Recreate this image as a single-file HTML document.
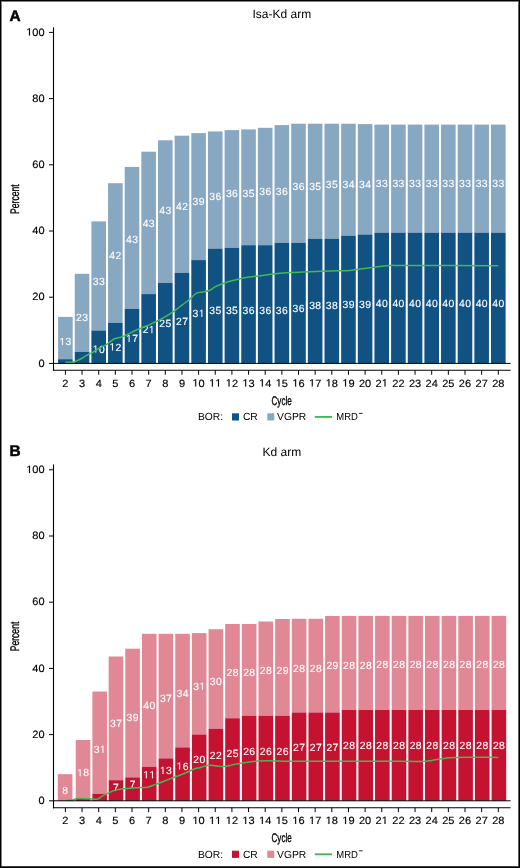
<!DOCTYPE html>
<html><head><meta charset="utf-8"><style>
html,body{margin:0;padding:0;background:#fff;}
svg{display:block;will-change:transform;}
text{font-family:"Liberation Sans", sans-serif;text-rendering:geometricPrecision;}
.bl{font-size:10.4px;fill:#fff;stroke:#fff;stroke-width:0.12px;}
.tk{font-size:10px;fill:#000;}
.tky{font-size:10.6px;fill:#000;stroke:#000;stroke-width:0.15px;}
.tkx{font-size:10.5px;fill:#000;stroke:#000;stroke-width:0.15px;}
.ti{font-size:12px;fill:#000;}
.pl{font-size:15.4px;font-weight:bold;fill:#000;stroke:#000;stroke-width:0.5px;}
.ax{font-size:12.5px;fill:#000;stroke:#000;stroke-width:0.35px;}
.lg{font-size:10.3px;fill:#000;}
</style></head><body>
<svg width="520" height="868" viewBox="0 0 520 868">
<defs><path id="one" d="M515,0V1237L197,1010V1180L530,1409H696V0Z"/></defs>
<rect x="0" y="0" width="520" height="868" fill="#fff"/>
<rect x="58.1" y="316.9" width="14.6" height="42.3" fill="#88a8c2"/>
<rect x="58.1" y="359.2" width="14.6" height="4.2" fill="#105282"/>
<rect x="74.75" y="273.8" width="14.6" height="78" fill="#88a8c2"/>
<rect x="74.75" y="351.8" width="14.6" height="11.6" fill="#105282"/>
<rect x="91.4" y="221.4" width="14.6" height="109.1" fill="#88a8c2"/>
<rect x="91.4" y="330.5" width="14.6" height="32.9" fill="#105282"/>
<rect x="108.05" y="183.2" width="14.6" height="139.6" fill="#88a8c2"/>
<rect x="108.05" y="322.8" width="14.6" height="40.6" fill="#105282"/>
<rect x="124.7" y="166.9" width="14.6" height="141.9" fill="#88a8c2"/>
<rect x="124.7" y="308.8" width="14.6" height="54.6" fill="#105282"/>
<rect x="141.35" y="151.7" width="14.6" height="142.4" fill="#88a8c2"/>
<rect x="141.35" y="294.1" width="14.6" height="69.3" fill="#105282"/>
<rect x="158" y="140.3" width="14.6" height="142.7" fill="#88a8c2"/>
<rect x="158" y="283" width="14.6" height="80.4" fill="#105282"/>
<rect x="174.65" y="135.7" width="14.6" height="137.1" fill="#88a8c2"/>
<rect x="174.65" y="272.8" width="14.6" height="90.6" fill="#105282"/>
<rect x="191.3" y="133.1" width="14.6" height="127" fill="#88a8c2"/>
<rect x="191.3" y="260.1" width="14.6" height="103.3" fill="#105282"/>
<rect x="207.95" y="131.4" width="14.6" height="117.2" fill="#88a8c2"/>
<rect x="207.95" y="248.6" width="14.6" height="114.8" fill="#105282"/>
<rect x="224.6" y="130.1" width="14.6" height="117.7" fill="#88a8c2"/>
<rect x="224.6" y="247.8" width="14.6" height="115.6" fill="#105282"/>
<rect x="241.25" y="129.4" width="14.6" height="115.8" fill="#88a8c2"/>
<rect x="241.25" y="245.2" width="14.6" height="118.2" fill="#105282"/>
<rect x="257.9" y="127.8" width="14.6" height="117.4" fill="#88a8c2"/>
<rect x="257.9" y="245.2" width="14.6" height="118.2" fill="#105282"/>
<rect x="274.55" y="125.1" width="14.6" height="117.7" fill="#88a8c2"/>
<rect x="274.55" y="242.8" width="14.6" height="120.6" fill="#105282"/>
<rect x="291.2" y="123.7" width="14.6" height="119.1" fill="#88a8c2"/>
<rect x="291.2" y="242.8" width="14.6" height="120.6" fill="#105282"/>
<rect x="307.85" y="123.7" width="14.6" height="115" fill="#88a8c2"/>
<rect x="307.85" y="238.7" width="14.6" height="124.7" fill="#105282"/>
<rect x="324.5" y="123.7" width="14.6" height="115" fill="#88a8c2"/>
<rect x="324.5" y="238.7" width="14.6" height="124.7" fill="#105282"/>
<rect x="341.15" y="123.7" width="14.6" height="112" fill="#88a8c2"/>
<rect x="341.15" y="235.7" width="14.6" height="127.7" fill="#105282"/>
<rect x="357.8" y="124.1" width="14.6" height="110.4" fill="#88a8c2"/>
<rect x="357.8" y="234.5" width="14.6" height="128.9" fill="#105282"/>
<rect x="374.45" y="124.6" width="14.6" height="108.1" fill="#88a8c2"/>
<rect x="374.45" y="232.7" width="14.6" height="130.7" fill="#105282"/>
<rect x="391.1" y="124.6" width="14.6" height="108.1" fill="#88a8c2"/>
<rect x="391.1" y="232.7" width="14.6" height="130.7" fill="#105282"/>
<rect x="407.75" y="124.6" width="14.6" height="108.1" fill="#88a8c2"/>
<rect x="407.75" y="232.7" width="14.6" height="130.7" fill="#105282"/>
<rect x="424.4" y="124.6" width="14.6" height="108.1" fill="#88a8c2"/>
<rect x="424.4" y="232.7" width="14.6" height="130.7" fill="#105282"/>
<rect x="441.05" y="124.6" width="14.6" height="108.1" fill="#88a8c2"/>
<rect x="441.05" y="232.7" width="14.6" height="130.7" fill="#105282"/>
<rect x="457.7" y="124.6" width="14.6" height="108.1" fill="#88a8c2"/>
<rect x="457.7" y="232.7" width="14.6" height="130.7" fill="#105282"/>
<rect x="474.35" y="124.6" width="14.6" height="108.1" fill="#88a8c2"/>
<rect x="474.35" y="232.7" width="14.6" height="130.7" fill="#105282"/>
<rect x="491" y="124.6" width="14.6" height="108.1" fill="#88a8c2"/>
<rect x="491" y="232.7" width="14.6" height="130.7" fill="#105282"/>
<use href="#one" fill="#fff" stroke="#fff" stroke-width="23.63" transform="translate(59.42,345.1) scale(0.005078,-0.005078)"/><text x="65.6" y="345.1" class="bl">3</text>
<text x="76.07" y="321" class="bl">2</text><text x="82.25" y="321" class="bl">3</text>
<text x="92.72" y="285" class="bl">3</text><text x="98.9" y="285" class="bl">3</text>
<text x="109.37" y="259.1" class="bl">4</text><text x="115.55" y="259.1" class="bl">2</text>
<text x="126.02" y="242.8" class="bl">4</text><text x="132.2" y="242.8" class="bl">3</text>
<text x="142.67" y="226.9" class="bl">4</text><text x="148.85" y="226.9" class="bl">3</text>
<text x="159.32" y="214" class="bl">4</text><text x="165.5" y="214" class="bl">3</text>
<text x="175.97" y="209.9" class="bl">4</text><text x="182.15" y="209.9" class="bl">2</text>
<text x="192.62" y="204.8" class="bl">3</text><text x="198.8" y="204.8" class="bl">9</text>
<text x="209.27" y="199.9" class="bl">3</text><text x="215.45" y="199.9" class="bl">6</text>
<text x="225.92" y="197.1" class="bl">3</text><text x="232.1" y="197.1" class="bl">6</text>
<text x="242.57" y="197.2" class="bl">3</text><text x="248.75" y="197.2" class="bl">5</text>
<text x="259.22" y="195.1" class="bl">3</text><text x="265.4" y="195.1" class="bl">6</text>
<text x="275.87" y="194.9" class="bl">3</text><text x="282.05" y="194.9" class="bl">6</text>
<text x="292.52" y="190.4" class="bl">3</text><text x="298.7" y="190.4" class="bl">6</text>
<text x="309.17" y="190.4" class="bl">3</text><text x="315.35" y="190.4" class="bl">5</text>
<text x="325.82" y="187.9" class="bl">3</text><text x="332" y="187.9" class="bl">5</text>
<text x="342.47" y="187.8" class="bl">3</text><text x="348.65" y="187.8" class="bl">4</text>
<text x="359.12" y="188.2" class="bl">3</text><text x="365.3" y="188.2" class="bl">4</text>
<text x="375.77" y="186.5" class="bl">3</text><text x="381.95" y="186.5" class="bl">3</text>
<text x="392.42" y="186.5" class="bl">3</text><text x="398.6" y="186.5" class="bl">3</text>
<text x="409.07" y="186.5" class="bl">3</text><text x="415.25" y="186.5" class="bl">3</text>
<text x="425.72" y="186.5" class="bl">3</text><text x="431.9" y="186.5" class="bl">3</text>
<text x="442.37" y="186.5" class="bl">3</text><text x="448.55" y="186.5" class="bl">3</text>
<text x="459.02" y="186.5" class="bl">3</text><text x="465.2" y="186.5" class="bl">3</text>
<text x="475.67" y="186.5" class="bl">3</text><text x="481.85" y="186.5" class="bl">3</text>
<text x="492.32" y="186.5" class="bl">3</text><text x="498.5" y="186.5" class="bl">3</text>
<use href="#one" fill="#fff" stroke="#fff" stroke-width="23.63" transform="translate(92.72,352.6) scale(0.005078,-0.005078)"/><text x="98.9" y="352.6" class="bl">0</text>
<use href="#one" fill="#fff" stroke="#fff" stroke-width="23.63" transform="translate(109.37,350.5) scale(0.005078,-0.005078)"/><text x="115.55" y="350.5" class="bl">2</text>
<use href="#one" fill="#fff" stroke="#fff" stroke-width="23.63" transform="translate(126.02,342.1) scale(0.005078,-0.005078)"/><text x="132.2" y="342.1" class="bl">7</text>
<text x="142.67" y="333.2" class="bl">2</text><use href="#one" fill="#fff" stroke="#fff" stroke-width="23.63" transform="translate(148.85,333.2) scale(0.005078,-0.005078)"/>
<text x="159.32" y="326.7" class="bl">2</text><text x="165.5" y="326.7" class="bl">5</text>
<text x="175.97" y="325.3" class="bl">2</text><text x="182.15" y="325.3" class="bl">7</text>
<text x="192.62" y="316.9" class="bl">3</text><use href="#one" fill="#fff" stroke="#fff" stroke-width="23.63" transform="translate(198.8,316.9) scale(0.005078,-0.005078)"/>
<text x="209.27" y="314.1" class="bl">3</text><text x="215.45" y="314.1" class="bl">5</text>
<text x="225.92" y="314.1" class="bl">3</text><text x="232.1" y="314.1" class="bl">5</text>
<text x="242.57" y="313.6" class="bl">3</text><text x="248.75" y="313.6" class="bl">6</text>
<text x="259.22" y="313.6" class="bl">3</text><text x="265.4" y="313.6" class="bl">6</text>
<text x="275.87" y="313.6" class="bl">3</text><text x="282.05" y="313.6" class="bl">6</text>
<text x="292.52" y="312.4" class="bl">3</text><text x="298.7" y="312.4" class="bl">6</text>
<text x="309.17" y="308.6" class="bl">3</text><text x="315.35" y="308.6" class="bl">8</text>
<text x="325.82" y="308.6" class="bl">3</text><text x="332" y="308.6" class="bl">8</text>
<text x="342.47" y="307.6" class="bl">3</text><text x="348.65" y="307.6" class="bl">9</text>
<text x="359.12" y="307.6" class="bl">3</text><text x="365.3" y="307.6" class="bl">9</text>
<text x="375.77" y="306.5" class="bl">4</text><text x="381.95" y="306.5" class="bl">0</text>
<text x="392.42" y="306.5" class="bl">4</text><text x="398.6" y="306.5" class="bl">0</text>
<text x="409.07" y="306.5" class="bl">4</text><text x="415.25" y="306.5" class="bl">0</text>
<text x="425.72" y="306.5" class="bl">4</text><text x="431.9" y="306.5" class="bl">0</text>
<text x="442.37" y="306.5" class="bl">4</text><text x="448.55" y="306.5" class="bl">0</text>
<text x="459.02" y="306.5" class="bl">4</text><text x="465.2" y="306.5" class="bl">0</text>
<text x="475.67" y="306.5" class="bl">4</text><text x="481.85" y="306.5" class="bl">0</text>
<text x="492.32" y="306.5" class="bl">4</text><text x="498.5" y="306.5" class="bl">0</text>
<path d="M65.4,362.3 C66.67,362.28 71.23,362.4 73,362.2 C74.77,362 74.58,361.72 76,361.1 C77.42,360.48 79.83,359.4 81.5,358.5 C83.17,357.6 84.42,356.58 86,355.7 C87.58,354.82 89.33,354.12 91,353.2 C92.67,352.28 94.4,351.15 96,350.2 C97.6,349.25 98.93,348.4 100.6,347.5 C102.27,346.6 104.33,345.82 106,344.8 C107.67,343.78 109.07,342.45 110.6,341.4 C112.13,340.35 113.53,339.2 115.2,338.5 C116.87,337.8 118.93,337.68 120.6,337.2 C122.27,336.72 123.53,336.32 125.2,335.6 C126.87,334.88 128.8,333.8 130.6,332.9 C132.4,332 133.43,331.32 136,330.2 C138.57,329.08 142.9,327.53 146,326.2 C149.1,324.87 151.72,323.58 154.6,322.2 C157.48,320.82 160.42,319.48 163.3,317.9 C166.18,316.32 169.88,314 171.9,312.7 C173.92,311.4 173.67,311.4 175.4,310.1 C177.13,308.8 180,306.63 182.3,304.9 C184.6,303.17 186.9,301.63 189.2,299.7 C191.5,297.77 193.8,294.6 196.1,293.3 C198.4,292 200.68,292.42 203,291.9 C205.32,291.38 208,291.03 210,290.2 C212,289.37 212.7,288.05 215,286.9 C217.3,285.75 220.98,284.32 223.8,283.3 C226.62,282.28 228.98,281.62 231.9,280.8 C234.82,279.98 238.38,279.02 241.3,278.4 C244.22,277.78 246.48,277.52 249.4,277.1 C252.32,276.68 255.88,276.28 258.8,275.9 C261.72,275.52 264.2,275.17 266.9,274.8 C269.6,274.43 271.15,274.08 275,273.7 C278.85,273.32 284.17,272.82 290,272.5 C295.83,272.18 303.33,272 310,271.75 C316.67,271.5 323.33,271.21 330,271 C336.67,270.79 345,270.83 350,270.5 C355,270.17 356.67,269.46 360,269 C363.33,268.54 366.67,268.17 370,267.75 C373.33,267.33 376.67,266.88 380,266.5 C383.33,266.12 386.67,265.68 390,265.5 C393.33,265.32 390,265.37 400,265.4 C418.05,265.43 481.92,265.65 498.3,265.7" fill="none" stroke="#44b853" stroke-width="1.5" stroke-linejoin="round" stroke-linecap="butt"/>
<line x1="53" y1="363.4" x2="510.6" y2="363.4" stroke="#000" stroke-width="1"/>
<line x1="53" y1="370.3" x2="510.6" y2="370.3" stroke="#000" stroke-width="1.1"/>
<line x1="53.5" y1="27.2" x2="53.5" y2="370.85" stroke="#000" stroke-width="1.1"/>
<line x1="49" y1="363.4" x2="53.5" y2="363.4" stroke="#000" stroke-width="1"/>
<text transform="translate(38.47,366.6) scale(1.04,1)" class="tky">0</text>
<line x1="49" y1="297.2" x2="53.5" y2="297.2" stroke="#000" stroke-width="1"/>
<text transform="translate(32.34,300.4) scale(1.04,1)" class="tky">2</text><text transform="translate(38.47,300.4) scale(1.04,1)" class="tky">0</text>
<line x1="49" y1="231" x2="53.5" y2="231" stroke="#000" stroke-width="1"/>
<text transform="translate(32.34,234.2) scale(1.04,1)" class="tky">4</text><text transform="translate(38.47,234.2) scale(1.04,1)" class="tky">0</text>
<line x1="49" y1="164.8" x2="53.5" y2="164.8" stroke="#000" stroke-width="1"/>
<text transform="translate(32.34,168) scale(1.04,1)" class="tky">6</text><text transform="translate(38.47,168) scale(1.04,1)" class="tky">0</text>
<line x1="49" y1="98.6" x2="53.5" y2="98.6" stroke="#000" stroke-width="1"/>
<text transform="translate(32.34,101.8) scale(1.04,1)" class="tky">8</text><text transform="translate(38.47,101.8) scale(1.04,1)" class="tky">0</text>
<line x1="49" y1="32.4" x2="53.5" y2="32.4" stroke="#000" stroke-width="1"/>
<use href="#one" fill="#000" stroke="#000" stroke-width="28.98" transform="translate(26.21,35.6) scale(0.005383,-0.005176)"/><text transform="translate(32.34,35.6) scale(1.04,1)" class="tky">0</text><text transform="translate(38.47,35.6) scale(1.04,1)" class="tky">0</text>
<line x1="65.4" y1="370.3" x2="65.4" y2="374.7" stroke="#000" stroke-width="1"/>
<text transform="translate(62.33,386.5) scale(1.05,1)" class="tkx">2</text>
<line x1="82.05" y1="370.3" x2="82.05" y2="374.7" stroke="#000" stroke-width="1"/>
<text transform="translate(78.98,386.5) scale(1.05,1)" class="tkx">3</text>
<line x1="98.7" y1="370.3" x2="98.7" y2="374.7" stroke="#000" stroke-width="1"/>
<text transform="translate(95.63,386.5) scale(1.05,1)" class="tkx">4</text>
<line x1="115.35" y1="370.3" x2="115.35" y2="374.7" stroke="#000" stroke-width="1"/>
<text transform="translate(112.28,386.5) scale(1.05,1)" class="tkx">5</text>
<line x1="132" y1="370.3" x2="132" y2="374.7" stroke="#000" stroke-width="1"/>
<text transform="translate(128.93,386.5) scale(1.05,1)" class="tkx">6</text>
<line x1="148.65" y1="370.3" x2="148.65" y2="374.7" stroke="#000" stroke-width="1"/>
<text transform="translate(145.58,386.5) scale(1.05,1)" class="tkx">7</text>
<line x1="165.3" y1="370.3" x2="165.3" y2="374.7" stroke="#000" stroke-width="1"/>
<text transform="translate(162.23,386.5) scale(1.05,1)" class="tkx">8</text>
<line x1="181.95" y1="370.3" x2="181.95" y2="374.7" stroke="#000" stroke-width="1"/>
<text transform="translate(178.88,386.5) scale(1.05,1)" class="tkx">9</text>
<line x1="198.6" y1="370.3" x2="198.6" y2="374.7" stroke="#000" stroke-width="1"/>
<use href="#one" fill="#000" stroke="#000" stroke-width="29.26" transform="translate(192.47,386.5) scale(0.005383,-0.005127)"/><text transform="translate(198.6,386.5) scale(1.05,1)" class="tkx">0</text>
<line x1="215.25" y1="370.3" x2="215.25" y2="374.7" stroke="#000" stroke-width="1"/>
<use href="#one" fill="#000" stroke="#000" stroke-width="29.26" transform="translate(209.12,386.5) scale(0.005383,-0.005127)"/><use href="#one" fill="#000" stroke="#000" stroke-width="29.26" transform="translate(215.25,386.5) scale(0.005383,-0.005127)"/>
<line x1="231.9" y1="370.3" x2="231.9" y2="374.7" stroke="#000" stroke-width="1"/>
<use href="#one" fill="#000" stroke="#000" stroke-width="29.26" transform="translate(225.77,386.5) scale(0.005383,-0.005127)"/><text transform="translate(231.9,386.5) scale(1.05,1)" class="tkx">2</text>
<line x1="248.55" y1="370.3" x2="248.55" y2="374.7" stroke="#000" stroke-width="1"/>
<use href="#one" fill="#000" stroke="#000" stroke-width="29.26" transform="translate(242.42,386.5) scale(0.005383,-0.005127)"/><text transform="translate(248.55,386.5) scale(1.05,1)" class="tkx">3</text>
<line x1="265.2" y1="370.3" x2="265.2" y2="374.7" stroke="#000" stroke-width="1"/>
<use href="#one" fill="#000" stroke="#000" stroke-width="29.26" transform="translate(259.07,386.5) scale(0.005383,-0.005127)"/><text transform="translate(265.2,386.5) scale(1.05,1)" class="tkx">4</text>
<line x1="281.85" y1="370.3" x2="281.85" y2="374.7" stroke="#000" stroke-width="1"/>
<use href="#one" fill="#000" stroke="#000" stroke-width="29.26" transform="translate(275.72,386.5) scale(0.005383,-0.005127)"/><text transform="translate(281.85,386.5) scale(1.05,1)" class="tkx">5</text>
<line x1="298.5" y1="370.3" x2="298.5" y2="374.7" stroke="#000" stroke-width="1"/>
<use href="#one" fill="#000" stroke="#000" stroke-width="29.26" transform="translate(292.37,386.5) scale(0.005383,-0.005127)"/><text transform="translate(298.5,386.5) scale(1.05,1)" class="tkx">6</text>
<line x1="315.15" y1="370.3" x2="315.15" y2="374.7" stroke="#000" stroke-width="1"/>
<use href="#one" fill="#000" stroke="#000" stroke-width="29.26" transform="translate(309.02,386.5) scale(0.005383,-0.005127)"/><text transform="translate(315.15,386.5) scale(1.05,1)" class="tkx">7</text>
<line x1="331.8" y1="370.3" x2="331.8" y2="374.7" stroke="#000" stroke-width="1"/>
<use href="#one" fill="#000" stroke="#000" stroke-width="29.26" transform="translate(325.67,386.5) scale(0.005383,-0.005127)"/><text transform="translate(331.8,386.5) scale(1.05,1)" class="tkx">8</text>
<line x1="348.45" y1="370.3" x2="348.45" y2="374.7" stroke="#000" stroke-width="1"/>
<use href="#one" fill="#000" stroke="#000" stroke-width="29.26" transform="translate(342.32,386.5) scale(0.005383,-0.005127)"/><text transform="translate(348.45,386.5) scale(1.05,1)" class="tkx">9</text>
<line x1="365.1" y1="370.3" x2="365.1" y2="374.7" stroke="#000" stroke-width="1"/>
<text transform="translate(358.97,386.5) scale(1.05,1)" class="tkx">2</text><text transform="translate(365.1,386.5) scale(1.05,1)" class="tkx">0</text>
<line x1="381.75" y1="370.3" x2="381.75" y2="374.7" stroke="#000" stroke-width="1"/>
<text transform="translate(375.62,386.5) scale(1.05,1)" class="tkx">2</text><use href="#one" fill="#000" stroke="#000" stroke-width="29.26" transform="translate(381.75,386.5) scale(0.005383,-0.005127)"/>
<line x1="398.4" y1="370.3" x2="398.4" y2="374.7" stroke="#000" stroke-width="1"/>
<text transform="translate(392.27,386.5) scale(1.05,1)" class="tkx">2</text><text transform="translate(398.4,386.5) scale(1.05,1)" class="tkx">2</text>
<line x1="415.05" y1="370.3" x2="415.05" y2="374.7" stroke="#000" stroke-width="1"/>
<text transform="translate(408.92,386.5) scale(1.05,1)" class="tkx">2</text><text transform="translate(415.05,386.5) scale(1.05,1)" class="tkx">3</text>
<line x1="431.7" y1="370.3" x2="431.7" y2="374.7" stroke="#000" stroke-width="1"/>
<text transform="translate(425.57,386.5) scale(1.05,1)" class="tkx">2</text><text transform="translate(431.7,386.5) scale(1.05,1)" class="tkx">4</text>
<line x1="448.35" y1="370.3" x2="448.35" y2="374.7" stroke="#000" stroke-width="1"/>
<text transform="translate(442.22,386.5) scale(1.05,1)" class="tkx">2</text><text transform="translate(448.35,386.5) scale(1.05,1)" class="tkx">5</text>
<line x1="465" y1="370.3" x2="465" y2="374.7" stroke="#000" stroke-width="1"/>
<text transform="translate(458.87,386.5) scale(1.05,1)" class="tkx">2</text><text transform="translate(465,386.5) scale(1.05,1)" class="tkx">6</text>
<line x1="481.65" y1="370.3" x2="481.65" y2="374.7" stroke="#000" stroke-width="1"/>
<text transform="translate(475.52,386.5) scale(1.05,1)" class="tkx">2</text><text transform="translate(481.65,386.5) scale(1.05,1)" class="tkx">7</text>
<line x1="498.3" y1="370.3" x2="498.3" y2="374.7" stroke="#000" stroke-width="1"/>
<text transform="translate(492.17,386.5) scale(1.05,1)" class="tkx">2</text><text transform="translate(498.3,386.5) scale(1.05,1)" class="tkx">8</text>
<text x="281.8" y="18" class="ti" text-anchor="middle">Isa-Kd arm</text>
<text x="9.6" y="21" class="pl">A</text>
<text transform="translate(19,199.1) rotate(-90) scale(0.688,1)" class="ax" text-anchor="middle">Percent</text>
<text transform="translate(281.6,404.5) scale(0.646,1)" class="ax" text-anchor="middle">Cycle</text>
<text x="197.9" y="420.4" class="lg">BOR:</text>
<rect x="232" y="413.3" width="7" height="7.2" fill="#105282"/>
<text x="242.9" y="420.4" class="lg">CR</text>
<rect x="267.3" y="413.3" width="7" height="7.2" fill="#88a8c2"/>
<text x="277.1" y="420.4" class="lg">VGPR</text>
<line x1="314.8" y1="416.9" x2="332.1" y2="416.9" stroke="#44b853" stroke-width="1.9"/>
<text transform="translate(336.3,420.4) scale(0.92,1)" class="lg">MRD</text>
<line x1="358.8" y1="413.4" x2="362.7" y2="413.4" stroke="#000" stroke-width="0.8"/>
<rect x="57.8" y="774.2" width="14.6" height="26.6" fill="#e08896"/>
<rect x="75.75" y="740" width="14.6" height="58.9" fill="#e08896"/>
<rect x="75.75" y="798.9" width="14.6" height="1.9" fill="#c41230"/>
<rect x="92.4" y="691.5" width="14.6" height="102.3" fill="#e08896"/>
<rect x="92.4" y="793.8" width="14.6" height="7" fill="#c41230"/>
<rect x="108.65" y="656.5" width="14.6" height="123.7" fill="#e08896"/>
<rect x="108.65" y="780.2" width="14.6" height="20.6" fill="#c41230"/>
<rect x="125.3" y="648.7" width="14.6" height="128.7" fill="#e08896"/>
<rect x="125.3" y="777.4" width="14.6" height="23.4" fill="#c41230"/>
<rect x="141.95" y="633.8" width="14.6" height="133" fill="#e08896"/>
<rect x="141.95" y="766.8" width="14.6" height="34" fill="#c41230"/>
<rect x="158.6" y="633.8" width="14.6" height="124.6" fill="#e08896"/>
<rect x="158.6" y="758.4" width="14.6" height="42.4" fill="#c41230"/>
<rect x="175.25" y="633.8" width="14.6" height="113.6" fill="#e08896"/>
<rect x="175.25" y="747.4" width="14.6" height="53.4" fill="#c41230"/>
<rect x="191.9" y="633.1" width="14.6" height="101.4" fill="#e08896"/>
<rect x="191.9" y="734.5" width="14.6" height="66.3" fill="#c41230"/>
<rect x="208.55" y="629.25" width="14.6" height="99.5" fill="#e08896"/>
<rect x="208.55" y="728.75" width="14.6" height="72.05" fill="#c41230"/>
<rect x="225.2" y="624" width="14.6" height="94.25" fill="#e08896"/>
<rect x="225.2" y="718.25" width="14.6" height="82.55" fill="#c41230"/>
<rect x="241.85" y="624" width="14.6" height="91.75" fill="#e08896"/>
<rect x="241.85" y="715.75" width="14.6" height="85.05" fill="#c41230"/>
<rect x="258.5" y="621.5" width="14.6" height="94.25" fill="#e08896"/>
<rect x="258.5" y="715.75" width="14.6" height="85.05" fill="#c41230"/>
<rect x="275.15" y="619" width="14.6" height="96.75" fill="#e08896"/>
<rect x="275.15" y="715.75" width="14.6" height="85.05" fill="#c41230"/>
<rect x="291.8" y="618.75" width="14.6" height="93.75" fill="#e08896"/>
<rect x="291.8" y="712.5" width="14.6" height="88.3" fill="#c41230"/>
<rect x="308.45" y="618.75" width="14.6" height="93.75" fill="#e08896"/>
<rect x="308.45" y="712.5" width="14.6" height="88.3" fill="#c41230"/>
<rect x="325.1" y="616" width="14.6" height="96.5" fill="#e08896"/>
<rect x="325.1" y="712.5" width="14.6" height="88.3" fill="#c41230"/>
<rect x="341.75" y="615.9" width="14.6" height="94.1" fill="#e08896"/>
<rect x="341.75" y="710" width="14.6" height="90.8" fill="#c41230"/>
<rect x="358.4" y="615.9" width="14.6" height="94.1" fill="#e08896"/>
<rect x="358.4" y="710" width="14.6" height="90.8" fill="#c41230"/>
<rect x="375.05" y="615.9" width="14.6" height="94.1" fill="#e08896"/>
<rect x="375.05" y="710" width="14.6" height="90.8" fill="#c41230"/>
<rect x="391.7" y="615.9" width="14.6" height="94.1" fill="#e08896"/>
<rect x="391.7" y="710" width="14.6" height="90.8" fill="#c41230"/>
<rect x="408.35" y="615.9" width="14.6" height="94.1" fill="#e08896"/>
<rect x="408.35" y="710" width="14.6" height="90.8" fill="#c41230"/>
<rect x="425" y="615.9" width="14.6" height="94.1" fill="#e08896"/>
<rect x="425" y="710" width="14.6" height="90.8" fill="#c41230"/>
<rect x="441.65" y="615.9" width="14.6" height="94.1" fill="#e08896"/>
<rect x="441.65" y="710" width="14.6" height="90.8" fill="#c41230"/>
<rect x="458.3" y="615.9" width="14.6" height="94.1" fill="#e08896"/>
<rect x="458.3" y="710" width="14.6" height="90.8" fill="#c41230"/>
<rect x="474.95" y="615.9" width="14.6" height="94.1" fill="#e08896"/>
<rect x="474.95" y="710" width="14.6" height="90.8" fill="#c41230"/>
<rect x="491.6" y="615.9" width="14.6" height="94.1" fill="#e08896"/>
<rect x="491.6" y="710" width="14.6" height="90.8" fill="#c41230"/>
<text x="62.21" y="793.9" class="bl">8</text>
<use href="#one" fill="#fff" stroke="#fff" stroke-width="23.63" transform="translate(77.07,776.3) scale(0.005078,-0.005078)"/><text x="83.25" y="776.3" class="bl">8</text>
<text x="93.72" y="752.9" class="bl">3</text><use href="#one" fill="#fff" stroke="#fff" stroke-width="23.63" transform="translate(99.9,752.9) scale(0.005078,-0.005078)"/>
<text x="109.97" y="727.3" class="bl">3</text><text x="116.15" y="727.3" class="bl">7</text>
<text x="126.62" y="720.8" class="bl">3</text><text x="132.8" y="720.8" class="bl">9</text>
<text x="143.27" y="708.7" class="bl">4</text><text x="149.45" y="708.7" class="bl">0</text>
<text x="159.92" y="701.6" class="bl">3</text><text x="166.1" y="701.6" class="bl">7</text>
<text x="176.57" y="696.9" class="bl">3</text><text x="182.75" y="696.9" class="bl">4</text>
<text x="193.22" y="689.8" class="bl">3</text><use href="#one" fill="#fff" stroke="#fff" stroke-width="23.63" transform="translate(199.4,689.8) scale(0.005078,-0.005078)"/>
<text x="209.87" y="685.35" class="bl">3</text><text x="216.05" y="685.35" class="bl">0</text>
<text x="226.52" y="676.1" class="bl">2</text><text x="232.7" y="676.1" class="bl">8</text>
<text x="243.17" y="676.1" class="bl">2</text><text x="249.35" y="676.1" class="bl">8</text>
<text x="259.82" y="674.1" class="bl">2</text><text x="266" y="674.1" class="bl">8</text>
<text x="276.47" y="674.1" class="bl">2</text><text x="282.65" y="674.1" class="bl">9</text>
<text x="293.12" y="671.6" class="bl">2</text><text x="299.3" y="671.6" class="bl">8</text>
<text x="309.77" y="671.6" class="bl">2</text><text x="315.95" y="671.6" class="bl">8</text>
<text x="326.42" y="669.3" class="bl">2</text><text x="332.6" y="669.3" class="bl">9</text>
<text x="343.07" y="669.3" class="bl">2</text><text x="349.25" y="669.3" class="bl">8</text>
<text x="359.72" y="669.3" class="bl">2</text><text x="365.9" y="669.3" class="bl">8</text>
<text x="376.37" y="667.6" class="bl">2</text><text x="382.55" y="667.6" class="bl">8</text>
<text x="393.02" y="667.6" class="bl">2</text><text x="399.2" y="667.6" class="bl">8</text>
<text x="409.67" y="667.6" class="bl">2</text><text x="415.85" y="667.6" class="bl">8</text>
<text x="426.32" y="667.6" class="bl">2</text><text x="432.5" y="667.6" class="bl">8</text>
<text x="442.97" y="667.6" class="bl">2</text><text x="449.15" y="667.6" class="bl">8</text>
<text x="459.62" y="667.6" class="bl">2</text><text x="465.8" y="667.6" class="bl">8</text>
<text x="476.27" y="667.6" class="bl">2</text><text x="482.45" y="667.6" class="bl">8</text>
<text x="492.92" y="667.6" class="bl">2</text><text x="499.1" y="667.6" class="bl">8</text>
<text x="113.06" y="790.8" class="bl">7</text>
<text x="129.71" y="787.9" class="bl">7</text>
<use href="#one" fill="#fff" stroke="#fff" stroke-width="23.63" transform="translate(143.27,778.3) scale(0.005078,-0.005078)"/><use href="#one" fill="#fff" stroke="#fff" stroke-width="23.63" transform="translate(149.45,778.3) scale(0.005078,-0.005078)"/>
<use href="#one" fill="#fff" stroke="#fff" stroke-width="23.63" transform="translate(159.92,774) scale(0.005078,-0.005078)"/><text x="166.1" y="774" class="bl">3</text>
<use href="#one" fill="#fff" stroke="#fff" stroke-width="23.63" transform="translate(176.57,769.6) scale(0.005078,-0.005078)"/><text x="182.75" y="769.6" class="bl">6</text>
<text x="193.22" y="763.1" class="bl">2</text><text x="199.4" y="763.1" class="bl">0</text>
<text x="209.87" y="758.9" class="bl">2</text><text x="216.05" y="758.9" class="bl">2</text>
<text x="226.52" y="757.2" class="bl">2</text><text x="232.7" y="757.2" class="bl">5</text>
<text x="243.17" y="755.4" class="bl">2</text><text x="249.35" y="755.4" class="bl">6</text>
<text x="259.82" y="755.4" class="bl">2</text><text x="266" y="755.4" class="bl">6</text>
<text x="276.47" y="755.3" class="bl">2</text><text x="282.65" y="755.3" class="bl">6</text>
<text x="293.12" y="751.3" class="bl">2</text><text x="299.3" y="751.3" class="bl">7</text>
<text x="309.77" y="751.3" class="bl">2</text><text x="315.95" y="751.3" class="bl">7</text>
<text x="326.42" y="751.3" class="bl">2</text><text x="332.6" y="751.3" class="bl">7</text>
<text x="343.07" y="749.4" class="bl">2</text><text x="349.25" y="749.4" class="bl">8</text>
<text x="359.72" y="749.4" class="bl">2</text><text x="365.9" y="749.4" class="bl">8</text>
<text x="376.37" y="749.4" class="bl">2</text><text x="382.55" y="749.4" class="bl">8</text>
<text x="393.02" y="749.4" class="bl">2</text><text x="399.2" y="749.4" class="bl">8</text>
<text x="409.67" y="748.7" class="bl">2</text><text x="415.85" y="748.7" class="bl">8</text>
<text x="426.32" y="748.7" class="bl">2</text><text x="432.5" y="748.7" class="bl">8</text>
<text x="442.97" y="748.7" class="bl">2</text><text x="449.15" y="748.7" class="bl">8</text>
<text x="459.62" y="748.7" class="bl">2</text><text x="465.8" y="748.7" class="bl">8</text>
<text x="476.27" y="748.7" class="bl">2</text><text x="482.45" y="748.7" class="bl">8</text>
<text x="492.92" y="748.7" class="bl">2</text><text x="499.1" y="748.7" class="bl">8</text>
<path d="M65.4,800.4 C66.55,800.33 70.25,800.32 72.3,800 C74.35,799.68 75.52,798.72 77.7,798.5 C79.88,798.28 83.1,798.63 85.4,798.7 C87.7,798.77 89.52,798.83 91.5,798.9 C93.48,798.97 95.38,799.65 97.3,799.1 C99.22,798.55 101.13,796.63 103,795.6 C104.87,794.57 106.4,793.82 108.5,792.9 C110.6,791.98 112.98,790.8 115.6,790.1 C118.22,789.4 121.32,789.07 124.2,788.7 C127.08,788.33 130.02,788.12 132.9,787.9 C135.78,787.68 139.07,787.52 141.5,787.4 C143.93,787.28 145.25,787.67 147.5,787.2 C149.75,786.73 152.08,785.67 155,784.6 C157.92,783.53 161.67,782.07 165,780.8 C168.33,779.53 171.67,778.27 175,777 C178.33,775.73 181.67,774.58 185,773.2 C188.33,771.82 192.5,769.62 195,768.7 C197.5,767.78 197.88,768.25 200,767.7 C202.12,767.15 205.13,765.72 207.7,765.4 C210.27,765.08 212.58,765.6 215.4,765.8 C218.22,766 221.53,766.8 224.6,766.6 C227.67,766.4 230.2,765.27 233.8,764.6 C237.4,763.93 242.35,763.18 246.2,762.6 C250.05,762.02 253.07,761.4 256.9,761.1 C260.73,760.8 265.35,760.8 269.2,760.8 C273.05,760.8 274.87,761.03 280,761.1 C285.13,761.17 280,761.17 300,761.2 C320,761.23 379.83,761.27 400,761.3 C420.17,761.33 415.72,761.55 421,761.4 C426.28,761.25 428.15,760.85 431.7,760.4 C435.25,759.95 438.42,759.2 442.3,758.7 C446.18,758.2 445.67,757.62 455,757.4 C464.33,757.18 491.08,757.4 498.3,757.4" fill="none" stroke="#44b853" stroke-width="1.5" stroke-linejoin="round" stroke-linecap="butt"/>
<line x1="53" y1="800.8" x2="510.6" y2="800.8" stroke="#000" stroke-width="1"/>
<line x1="53" y1="807.7" x2="510.6" y2="807.7" stroke="#000" stroke-width="1.1"/>
<line x1="53.5" y1="464.6" x2="53.5" y2="808.25" stroke="#000" stroke-width="1.1"/>
<line x1="49" y1="800.8" x2="53.5" y2="800.8" stroke="#000" stroke-width="1"/>
<text transform="translate(38.47,804) scale(1.04,1)" class="tky">0</text>
<line x1="49" y1="734.6" x2="53.5" y2="734.6" stroke="#000" stroke-width="1"/>
<text transform="translate(32.34,737.8) scale(1.04,1)" class="tky">2</text><text transform="translate(38.47,737.8) scale(1.04,1)" class="tky">0</text>
<line x1="49" y1="668.4" x2="53.5" y2="668.4" stroke="#000" stroke-width="1"/>
<text transform="translate(32.34,671.6) scale(1.04,1)" class="tky">4</text><text transform="translate(38.47,671.6) scale(1.04,1)" class="tky">0</text>
<line x1="49" y1="602.2" x2="53.5" y2="602.2" stroke="#000" stroke-width="1"/>
<text transform="translate(32.34,605.4) scale(1.04,1)" class="tky">6</text><text transform="translate(38.47,605.4) scale(1.04,1)" class="tky">0</text>
<line x1="49" y1="536" x2="53.5" y2="536" stroke="#000" stroke-width="1"/>
<text transform="translate(32.34,539.2) scale(1.04,1)" class="tky">8</text><text transform="translate(38.47,539.2) scale(1.04,1)" class="tky">0</text>
<line x1="49" y1="469.8" x2="53.5" y2="469.8" stroke="#000" stroke-width="1"/>
<use href="#one" fill="#000" stroke="#000" stroke-width="28.98" transform="translate(26.21,473) scale(0.005383,-0.005176)"/><text transform="translate(32.34,473) scale(1.04,1)" class="tky">0</text><text transform="translate(38.47,473) scale(1.04,1)" class="tky">0</text>
<line x1="65.4" y1="807.7" x2="65.4" y2="812.1" stroke="#000" stroke-width="1"/>
<text transform="translate(62.33,823.9) scale(1.05,1)" class="tkx">2</text>
<line x1="82.05" y1="807.7" x2="82.05" y2="812.1" stroke="#000" stroke-width="1"/>
<text transform="translate(78.98,823.9) scale(1.05,1)" class="tkx">3</text>
<line x1="98.7" y1="807.7" x2="98.7" y2="812.1" stroke="#000" stroke-width="1"/>
<text transform="translate(95.63,823.9) scale(1.05,1)" class="tkx">4</text>
<line x1="115.35" y1="807.7" x2="115.35" y2="812.1" stroke="#000" stroke-width="1"/>
<text transform="translate(112.28,823.9) scale(1.05,1)" class="tkx">5</text>
<line x1="132" y1="807.7" x2="132" y2="812.1" stroke="#000" stroke-width="1"/>
<text transform="translate(128.93,823.9) scale(1.05,1)" class="tkx">6</text>
<line x1="148.65" y1="807.7" x2="148.65" y2="812.1" stroke="#000" stroke-width="1"/>
<text transform="translate(145.58,823.9) scale(1.05,1)" class="tkx">7</text>
<line x1="165.3" y1="807.7" x2="165.3" y2="812.1" stroke="#000" stroke-width="1"/>
<text transform="translate(162.23,823.9) scale(1.05,1)" class="tkx">8</text>
<line x1="181.95" y1="807.7" x2="181.95" y2="812.1" stroke="#000" stroke-width="1"/>
<text transform="translate(178.88,823.9) scale(1.05,1)" class="tkx">9</text>
<line x1="198.6" y1="807.7" x2="198.6" y2="812.1" stroke="#000" stroke-width="1"/>
<use href="#one" fill="#000" stroke="#000" stroke-width="29.26" transform="translate(192.47,823.9) scale(0.005383,-0.005127)"/><text transform="translate(198.6,823.9) scale(1.05,1)" class="tkx">0</text>
<line x1="215.25" y1="807.7" x2="215.25" y2="812.1" stroke="#000" stroke-width="1"/>
<use href="#one" fill="#000" stroke="#000" stroke-width="29.26" transform="translate(209.12,823.9) scale(0.005383,-0.005127)"/><use href="#one" fill="#000" stroke="#000" stroke-width="29.26" transform="translate(215.25,823.9) scale(0.005383,-0.005127)"/>
<line x1="231.9" y1="807.7" x2="231.9" y2="812.1" stroke="#000" stroke-width="1"/>
<use href="#one" fill="#000" stroke="#000" stroke-width="29.26" transform="translate(225.77,823.9) scale(0.005383,-0.005127)"/><text transform="translate(231.9,823.9) scale(1.05,1)" class="tkx">2</text>
<line x1="248.55" y1="807.7" x2="248.55" y2="812.1" stroke="#000" stroke-width="1"/>
<use href="#one" fill="#000" stroke="#000" stroke-width="29.26" transform="translate(242.42,823.9) scale(0.005383,-0.005127)"/><text transform="translate(248.55,823.9) scale(1.05,1)" class="tkx">3</text>
<line x1="265.2" y1="807.7" x2="265.2" y2="812.1" stroke="#000" stroke-width="1"/>
<use href="#one" fill="#000" stroke="#000" stroke-width="29.26" transform="translate(259.07,823.9) scale(0.005383,-0.005127)"/><text transform="translate(265.2,823.9) scale(1.05,1)" class="tkx">4</text>
<line x1="281.85" y1="807.7" x2="281.85" y2="812.1" stroke="#000" stroke-width="1"/>
<use href="#one" fill="#000" stroke="#000" stroke-width="29.26" transform="translate(275.72,823.9) scale(0.005383,-0.005127)"/><text transform="translate(281.85,823.9) scale(1.05,1)" class="tkx">5</text>
<line x1="298.5" y1="807.7" x2="298.5" y2="812.1" stroke="#000" stroke-width="1"/>
<use href="#one" fill="#000" stroke="#000" stroke-width="29.26" transform="translate(292.37,823.9) scale(0.005383,-0.005127)"/><text transform="translate(298.5,823.9) scale(1.05,1)" class="tkx">6</text>
<line x1="315.15" y1="807.7" x2="315.15" y2="812.1" stroke="#000" stroke-width="1"/>
<use href="#one" fill="#000" stroke="#000" stroke-width="29.26" transform="translate(309.02,823.9) scale(0.005383,-0.005127)"/><text transform="translate(315.15,823.9) scale(1.05,1)" class="tkx">7</text>
<line x1="331.8" y1="807.7" x2="331.8" y2="812.1" stroke="#000" stroke-width="1"/>
<use href="#one" fill="#000" stroke="#000" stroke-width="29.26" transform="translate(325.67,823.9) scale(0.005383,-0.005127)"/><text transform="translate(331.8,823.9) scale(1.05,1)" class="tkx">8</text>
<line x1="348.45" y1="807.7" x2="348.45" y2="812.1" stroke="#000" stroke-width="1"/>
<use href="#one" fill="#000" stroke="#000" stroke-width="29.26" transform="translate(342.32,823.9) scale(0.005383,-0.005127)"/><text transform="translate(348.45,823.9) scale(1.05,1)" class="tkx">9</text>
<line x1="365.1" y1="807.7" x2="365.1" y2="812.1" stroke="#000" stroke-width="1"/>
<text transform="translate(358.97,823.9) scale(1.05,1)" class="tkx">2</text><text transform="translate(365.1,823.9) scale(1.05,1)" class="tkx">0</text>
<line x1="381.75" y1="807.7" x2="381.75" y2="812.1" stroke="#000" stroke-width="1"/>
<text transform="translate(375.62,823.9) scale(1.05,1)" class="tkx">2</text><use href="#one" fill="#000" stroke="#000" stroke-width="29.26" transform="translate(381.75,823.9) scale(0.005383,-0.005127)"/>
<line x1="398.4" y1="807.7" x2="398.4" y2="812.1" stroke="#000" stroke-width="1"/>
<text transform="translate(392.27,823.9) scale(1.05,1)" class="tkx">2</text><text transform="translate(398.4,823.9) scale(1.05,1)" class="tkx">2</text>
<line x1="415.05" y1="807.7" x2="415.05" y2="812.1" stroke="#000" stroke-width="1"/>
<text transform="translate(408.92,823.9) scale(1.05,1)" class="tkx">2</text><text transform="translate(415.05,823.9) scale(1.05,1)" class="tkx">3</text>
<line x1="431.7" y1="807.7" x2="431.7" y2="812.1" stroke="#000" stroke-width="1"/>
<text transform="translate(425.57,823.9) scale(1.05,1)" class="tkx">2</text><text transform="translate(431.7,823.9) scale(1.05,1)" class="tkx">4</text>
<line x1="448.35" y1="807.7" x2="448.35" y2="812.1" stroke="#000" stroke-width="1"/>
<text transform="translate(442.22,823.9) scale(1.05,1)" class="tkx">2</text><text transform="translate(448.35,823.9) scale(1.05,1)" class="tkx">5</text>
<line x1="465" y1="807.7" x2="465" y2="812.1" stroke="#000" stroke-width="1"/>
<text transform="translate(458.87,823.9) scale(1.05,1)" class="tkx">2</text><text transform="translate(465,823.9) scale(1.05,1)" class="tkx">6</text>
<line x1="481.65" y1="807.7" x2="481.65" y2="812.1" stroke="#000" stroke-width="1"/>
<text transform="translate(475.52,823.9) scale(1.05,1)" class="tkx">2</text><text transform="translate(481.65,823.9) scale(1.05,1)" class="tkx">7</text>
<line x1="498.3" y1="807.7" x2="498.3" y2="812.1" stroke="#000" stroke-width="1"/>
<text transform="translate(492.17,823.9) scale(1.05,1)" class="tkx">2</text><text transform="translate(498.3,823.9) scale(1.05,1)" class="tkx">8</text>
<text x="281.8" y="455.9" class="ti" text-anchor="middle">Kd arm</text>
<text x="9.6" y="455.8" class="pl">B</text>
<text transform="translate(19,636.5) rotate(-90) scale(0.688,1)" class="ax" text-anchor="middle">Percent</text>
<text transform="translate(281.6,841.9) scale(0.646,1)" class="ax" text-anchor="middle">Cycle</text>
<text x="197.9" y="857.8" class="lg">BOR:</text>
<rect x="232" y="850.7" width="7" height="7.2" fill="#c41230"/>
<text x="242.9" y="857.8" class="lg">CR</text>
<rect x="267.3" y="850.7" width="7" height="7.2" fill="#e08896"/>
<text x="277.1" y="857.8" class="lg">VGPR</text>
<line x1="314.8" y1="854.3" x2="332.1" y2="854.3" stroke="#44b853" stroke-width="1.9"/>
<text transform="translate(336.3,857.8) scale(0.92,1)" class="lg">MRD</text>
<line x1="358.8" y1="850.8" x2="362.7" y2="850.8" stroke="#000" stroke-width="0.8"/>
<rect x="0" y="0" width="520" height="1" fill="#000"/>
<rect x="0" y="1" width="520" height="1" fill="#808080"/>
<rect x="0" y="0" width="1" height="868" fill="#000"/>
<rect x="1" y="1" width="1" height="866" fill="#808080"/>
<rect x="519" y="0" width="1" height="868" fill="#000"/>
<rect x="518" y="1" width="1" height="866" fill="#606060"/>
<rect x="0" y="867" width="520" height="1" fill="#000"/>
<rect x="1" y="866" width="518" height="1" fill="#404040"/>
</svg>
</body></html>
